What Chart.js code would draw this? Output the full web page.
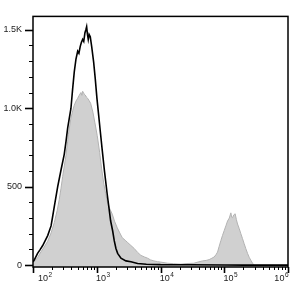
<!DOCTYPE html>
<html>
<head>
<meta charset="utf-8">
<script src="https://cdn.jsdelivr.net/npm/chart.js@4"></script>
<style>
  html, body { margin: 0; padding: 0; background: #fff; }
  #wrap { width: 299px; height: 295px; }
</style>
</head>
<body>
<div id="wrap"><canvas id="histChart" width="299" height="295"></canvas></div>
<script>
// stained sample (gray filled)
const grayX = [
  100, 104, 118, 133, 150, 170, 192, 216, 240, 258,
  275, 292, 310, 329, 350, 358, 394, 420, 444, 472,
  502, 530, 565, 585, 601, 630, 660, 690, 720, 760,
  802, 870, 937, 1018, 1110, 1194, 1297, 1380, 1461, 1600,
  1750, 1900, 2096, 2300, 2510, 2800, 3051, 3437, 3870, 4377,
  4930, 5600, 6279, 7000, 7880, 9000, 10146, 12922, 16000, 20880,
  26000, 33390, 39000, 45700, 52000, 57990, 64000, 69460, 74000, 78520,
  83000, 88460, 94000, 99630, 106000, 112600, 120000, 126900, 131000, 134900,
  141000, 148200, 155000, 161600, 172000, 182100, 193000, 205100, 218000, 231900,
  246000, 261200, 278000, 294300, 400000, 1000000
];
const grayY = [
  14, 22, 48, 84, 116, 152, 205, 272, 350, 418,
  490, 565, 632, 700, 790, 831, 938, 985, 1019, 1045,
  1063, 1082, 1100, 1082, 1108, 1092, 1084, 1070, 1063, 1048,
  1031, 975, 906, 825, 719, 613, 513, 455, 406, 360,
  325, 280, 238, 205, 175, 158, 144, 125, 106, 81,
  62, 52, 44, 33, 27, 22, 19, 12, 9, 6,
  10, 12, 20, 27, 30, 35, 44, 52, 66, 83,
  118, 156, 190, 219, 250, 281, 300, 333, 305, 302,
  320, 327, 290, 262, 232, 200, 170, 137, 105, 75,
  50, 31, 12, 0, 0, 0
];

// control (black line)
const blackX = [
  100, 104, 118, 130, 142, 170, 192, 204, 216, 244,
  275, 309, 330, 350, 394, 419, 444, 472, 502, 525,
  551, 575, 601, 625, 653, 675, 694, 715, 736, 760,
  791, 832, 894, 947, 1007, 1071, 1134, 1220, 1326, 1461,
  1560, 1652, 1775, 1881, 2000, 2126, 2395, 2869, 3437, 4377,
  6000, 10000, 30000, 100000, 200000, 1000000
];
const blackY = [
  22, 31, 75, 100, 125, 188, 250, 313, 375, 500,
  606, 706, 790, 875, 1000, 1125, 1231, 1313, 1363, 1350,
  1394, 1420, 1438, 1425, 1481, 1500, 1519, 1470, 1438, 1470,
  1456, 1394, 1294, 1188, 1063, 956, 856, 731, 594, 450,
  360, 281, 219, 156, 106, 75, 44, 27, 21, 10,
  6, 3, 2, 1, 0, 0
];

const xMajorTicks = [100, 1000, 10000, 100000, 1000000];
const xTickExp = ['2', '3', '4', '5', '6'];
const yMajorTicks = [0, 500, 1000, 1500];
const yTickLabels = ['0', '500', '1.0K', '1.5K'];

const FONT = "Arial, 'Liberation Sans', sans-serif";

function toPoints(xs, ys) {
  return xs.map((x, i) => ({ x: x, y: ys[i] }));
}

// frame, tick marks and x labels with superscripts
const axesPlugin = {
  id: 'axesPlugin',
  afterDraw(chart) {
    const { ctx, chartArea: a } = chart;
    const xs = chart.scales.x, ys = chart.scales.y;
    ctx.save();
    ctx.strokeStyle = '#000';

    xs.ticks.forEach(t => {
      const major = xMajorTicks.includes(t.value);
      const px = Math.round(xs.getPixelForValue(t.value)) + 0.5;
      ctx.lineWidth = major ? 1.6 : 1;
      ctx.beginPath();
      ctx.moveTo(px, a.bottom);
      ctx.lineTo(px, a.bottom + (major ? 6 : 3));
      ctx.stroke();
    });

    ys.ticks.forEach(t => {
      const major = yMajorTicks.includes(t.value);
      const py = Math.round(ys.getPixelForValue(t.value)) + 0.5;
      ctx.lineWidth = major ? 1.6 : 1;
      ctx.beginPath();
      ctx.moveTo(a.left, py);
      ctx.lineTo(a.left - (major ? 8 : 4), py);
      ctx.stroke();
    });

    ctx.lineWidth = 1.5;
    ctx.strokeRect(a.left, a.top, a.right - a.left, a.bottom - a.top);

    ctx.fillStyle = '#222';
    ctx.textBaseline = 'alphabetic';
    ctx.textAlign = 'left';
    xMajorTicks.forEach((v, i) => {
      const px = xs.getPixelForValue(v);
      ctx.font = '9px ' + FONT;
      const wb = ctx.measureText('10').width;
      ctx.font = '6.5px ' + FONT;
      const we = ctx.measureText(xTickExp[i]).width;
      const w = wb + we;
      let left = px + 6 - w / 2;
      left = Math.max(38, Math.min(left, a.right - w));
      ctx.font = '9px ' + FONT;
      ctx.fillText('10', left, a.bottom + 14);
      ctx.font = '6.5px ' + FONT;
      ctx.fillText(xTickExp[i], left + wb + 0.5, a.bottom + 9.5);
    });
    ctx.restore();
  }
};

new Chart(document.getElementById('histChart'), {
  type: 'line',
  data: {
    datasets: [
      {
        label: 'Control',
        data: toPoints(blackX, blackY),
        borderColor: '#000',
        borderWidth: 1.6,
        pointRadius: 0,
        fill: false,
        tension: 0,
        order: 0
      },
      {
        label: 'Stained',
        data: toPoints(grayX, grayY),
        borderColor: '#b3b3b3',
        backgroundColor: '#d0d0d0',
        borderWidth: 1,
        pointRadius: 0,
        fill: 'start',
        tension: 0,
        order: 1
      }
    ]
  },
  options: {
    responsive: false,
    animation: false,
    devicePixelRatio: 1,
    layout: { padding: { top: 11, right: 11, left: 0, bottom: 0 } },
    plugins: {
      legend: { display: false },
      tooltip: { enabled: false }
    },
    scales: {
      x: {
        type: 'logarithmic',
        min: 100,
        max: 1000000,
        grid: { display: false, drawTicks: false },
        border: { display: false },
        ticks: { display: false },
        afterBuildTicks(scale) {
          const t = [];
          for (let e = 2; e < 6; e++) {
            for (let k = 1; k < 10; k++) t.push({ value: k * Math.pow(10, e) });
          }
          t.push({ value: 1000000 });
          scale.ticks = t;
        },
        afterFit(scale) { scale.height = 28; }
      },
      y: {
        min: -12,
        max: 1585,
        grid: { display: false, drawTicks: false },
        border: { display: false },
        afterBuildTicks(scale) {
          const t = [];
          for (let v = 0; v <= 1500; v += 100) t.push({ value: v });
          scale.ticks = t;
        },
        ticks: {
          padding: 11,
          color: '#222',
          font: { family: FONT, size: 9 },
          callback: (v) => {
            const i = yMajorTicks.indexOf(v);
            return i >= 0 ? yTickLabels[i] : '';
          }
        },
        afterFit(scale) { scale.width = 33; }
      }
    }
  },
  plugins: [axesPlugin]
});
</script>
</body>
</html>
